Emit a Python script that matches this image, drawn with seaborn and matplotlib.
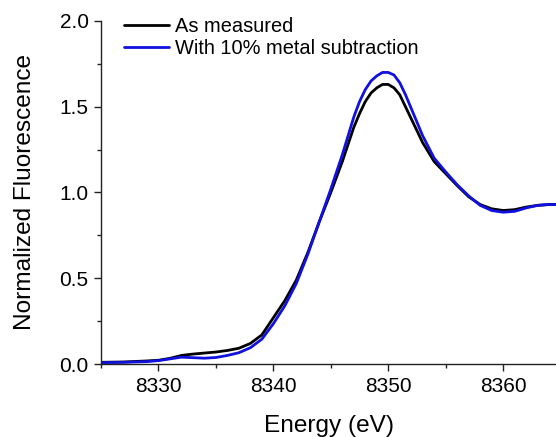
import numpy as np
import pandas as pd
import matplotlib
matplotlib.use("Agg")
import matplotlib.pyplot as plt
from matplotlib.ticker import MultipleLocator, FormatStrFormatter
import seaborn as sns

# Fe K-edge style XANES spectra (normalized fluorescence vs. incident energy)
energy = [8325, 8327, 8329, 8330, 8331, 8332, 8333, 8334, 8335, 8336, 8337,
          8338, 8339, 8340, 8341, 8342, 8343, 8344, 8345, 8346, 8347, 8347.5,
          8348, 8348.5, 8349, 8349.5, 8350, 8350.5, 8351, 8351.5, 8352, 8353,
          8354, 8355, 8356, 8357, 8358, 8359, 8360, 8361, 8362, 8363, 8364, 8365]

as_measured = [0.010, 0.012, 0.018, 0.022, 0.033, 0.050, 0.058, 0.064, 0.070,
               0.079, 0.092, 0.120, 0.170, 0.270, 0.370, 0.490, 0.650, 0.830,
               1.000, 1.180, 1.380, 1.460, 1.530, 1.580, 1.610, 1.630, 1.630,
               1.610, 1.570, 1.500, 1.430, 1.290, 1.180, 1.110, 1.040, 0.975,
               0.930, 0.905, 0.895, 0.900, 0.915, 0.925, 0.930, 0.930]

metal_subtracted = [0.008, 0.010, 0.014, 0.020, 0.030, 0.040, 0.037, 0.034,
                    0.038, 0.050, 0.066, 0.095, 0.145, 0.235, 0.340, 0.470,
                    0.640, 0.830, 1.020, 1.220, 1.440, 1.530, 1.600, 1.650,
                    1.680, 1.700, 1.700, 1.685, 1.640, 1.570, 1.490, 1.330,
                    1.200, 1.120, 1.045, 0.980, 0.925, 0.895, 0.885, 0.890,
                    0.910, 0.925, 0.930, 0.930]

series_names = ["As measured", "With 10% metal subtraction"]
series_colors = ["#000000", "#1010e0"]

df = pd.concat([
    pd.DataFrame({"Energy": energy, "Fluorescence": as_measured,
                  "Spectrum": series_names[0]}),
    pd.DataFrame({"Energy": energy, "Fluorescence": metal_subtracted,
                  "Spectrum": series_names[1]}),
])

sns.set_style("ticks")
plt.rcParams["font.family"] = ["Liberation Sans", "DejaVu Sans"]
plt.rcParams["text.color"] = "black"
plt.rcParams["axes.labelcolor"] = "black"
plt.rcParams["xtick.color"] = "#222222"
plt.rcParams["ytick.color"] = "#222222"
plt.rcParams["xtick.labelcolor"] = "black"
plt.rcParams["ytick.labelcolor"] = "black"

fig = plt.figure(figsize=(5.56, 4.37), dpi=100)
ax = fig.add_axes([0.1817, 0.167, 0.8183, 0.785])

sns.lineplot(data=df, x="Energy", y="Fluorescence", hue="Spectrum",
             palette=dict(zip(series_names, series_colors)),
             linewidth=2.0, ax=ax, sort=False)

ax.set_xlim(8325, 8364.6)
ax.set_ylim(0, 2.0)
ax.xaxis.set_major_locator(MultipleLocator(10))
ax.xaxis.set_minor_locator(MultipleLocator(5))
ax.yaxis.set_major_locator(MultipleLocator(0.5))
ax.yaxis.set_minor_locator(MultipleLocator(0.25))
ax.yaxis.set_major_formatter(FormatStrFormatter("%.1f"))

ax.tick_params(which="major", length=5, width=1, labelsize=15, pad=4,
               color="#222222", labelcolor="black")
ax.tick_params(which="minor", length=3, width=1, color="#222222")
for side in ("left", "bottom"):
    ax.spines[side].set_linewidth(1)
    ax.spines[side].set_color("#222222")
sns.despine(ax=ax)

ax.set_xlabel("Energy (eV)", fontsize=17.6, labelpad=14, color="black")
ax.set_ylabel("Normalized Fluorescence", fontsize=17.6, labelpad=17,
              color="black")

leg = ax.legend(loc="upper left", bbox_to_anchor=(0.032, 1.035), frameon=False,
                fontsize=14.4, handlelength=2.25, handletextpad=0.3,
                labelspacing=0.15, borderaxespad=0.0)
for line in leg.get_lines():
    line.set_linewidth(2.0)
for txt in leg.get_texts():
    txt.set_color("black")

fig.savefig("out.png", dpi=100)
